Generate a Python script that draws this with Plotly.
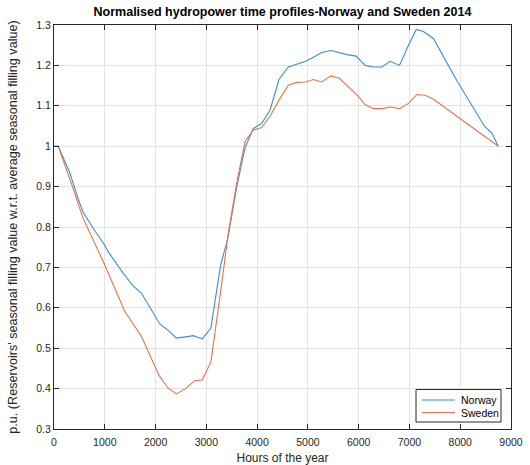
import plotly.graph_objects as go

# Weekly reservoir filling profiles (p.u. of average seasonal filling value)
norway_hours = [0, 84, 310, 480, 580, 770, 1000, 1065, 1361, 1558, 1723, 2084, 2249,
                2413, 2590, 2742, 2920, 3090, 3280, 3420, 3600, 3761, 3925, 4089, 4254,
                4431, 4615, 4780, 4957, 5108, 5273, 5451, 5634, 5798, 5949, 6127, 6291,
                6456, 6620, 6804, 6981, 7133, 7277, 7474, 7935, 8474, 8626, 8750]
norway_values = [1.0, 1.0, 0.935, 0.868, 0.835, 0.797, 0.755, 0.739, 0.686, 0.654, 0.636,
                 0.560, 0.544, 0.525, 0.528, 0.531, 0.523, 0.550, 0.705, 0.770, 0.900,
                 0.996, 1.044, 1.056, 1.089, 1.165, 1.196, 1.203, 1.210, 1.220, 1.232,
                 1.237, 1.231, 1.226, 1.223, 1.200, 1.196, 1.196, 1.210, 1.200, 1.250,
                 1.289, 1.284, 1.266, 1.162, 1.050, 1.032, 1.0]

sweden_hours = [0, 84, 375, 572, 1000, 1394, 1723, 2071, 2249, 2413, 2590, 2762, 2920,
                3090, 3281, 3432, 3596, 3761, 3925, 4089, 4254, 4431, 4615, 4780, 4957,
                5108, 5273, 5451, 5620, 5798, 5975, 6127, 6291, 6456, 6620, 6804, 6981,
                7146, 7310, 7474, 8750]
sweden_values = [1.0, 1.0, 0.896, 0.822, 0.706, 0.591, 0.529, 0.432, 0.401, 0.387, 0.400,
                 0.419, 0.422, 0.466, 0.640, 0.784, 0.908, 1.011, 1.040, 1.046, 1.074,
                 1.114, 1.151, 1.158, 1.159, 1.165, 1.159, 1.174, 1.168, 1.147, 1.126,
                 1.103, 1.093, 1.093, 1.097, 1.093, 1.106, 1.128, 1.126, 1.116, 1.0]

series_names = ["Norway", "Sweden"]
series_colors = ["#3a8ed3", "#e5754a"]

x_ticks = [0, 1000, 2000, 3000, 4000, 5000, 6000, 7000, 8000, 9000]
y_ticks = [0.3, 0.4, 0.5, 0.6, 0.7, 0.8, 0.9, 1.0, 1.1, 1.2, 1.3]
y_tick_text = ["0.3", "0.4", "0.5", "0.6", "0.7", "0.8", "0.9", "1", "1.1", "1.2", "1.3"]

FONT = "Liberation Sans, Arial, Helvetica, sans-serif"
AXIS_COLOR = "#262626"
GRID_COLOR = "#e3e3e3"

W, H = 530, 465
ML, MR, MT, MB = 54, 19, 25, 36
PW, PH = W - ML - MR, H - MT - MB


def px_x(px):
    """Pixel column -> paper x fraction of the plot area."""
    return (px - ML) / PW


def px_y(py):
    """Pixel row -> paper y fraction of the plot area."""
    return (H - MB - py) / PH


fig = go.Figure()
for name, xs, ys, col in zip(series_names, [norway_hours, sweden_hours],
                             [norway_values, sweden_values], series_colors):
    fig.add_trace(go.Scatter(x=xs, y=ys, mode="lines", name=name,
                             line=dict(color=col, width=1.1), showlegend=False))

axis_common = dict(
    showline=True, linecolor=AXIS_COLOR, linewidth=1, mirror="allticks",
    ticks="inside", ticklen=5, tickwidth=1, tickcolor=AXIS_COLOR,
    showgrid=True, gridcolor=GRID_COLOR, gridwidth=1, zeroline=False,
    automargin=False,
    tickfont=dict(family=FONT, size=10.5, color=AXIS_COLOR),
)

fig.update_xaxes(range=[0, 9000], tickvals=x_ticks, ticklabelstandoff=3,
                 title=dict(text="Hours of the year",
                            font=dict(family=FONT, size=12, color=AXIS_COLOR)),
                 **axis_common)
fig.update_yaxes(range=[0.3, 1.3], tickvals=y_ticks, ticktext=y_tick_text,
                 title=dict(text="p.u. (Reservoirs' seasonal filling value w.r.t. average seasonal filling value)",
                            font=dict(family=FONT, size=12.6, color=AXIS_COLOR)),
                 **axis_common)

# Boxed legend in the lower-right corner
shapes = [dict(type="rect", xref="paper", yref="paper",
               x0=px_x(416), x1=px_x(501), y0=px_y(422), y1=px_y(389.5),
               line=dict(color=AXIS_COLOR, width=1), fillcolor="white", layer="above")]
annotations = []
for i, (name, col) in enumerate(zip(series_names, series_colors)):
    yy = px_y(400 + i * 12.5)
    shapes.append(dict(type="line", xref="paper", yref="paper",
                       x0=px_x(422), x1=px_x(455), y0=yy, y1=yy,
                       line=dict(color=col, width=1.1), layer="above"))
    annotations.append(dict(xref="paper", yref="paper", x=px_x(459), y=yy,
                            xanchor="left", yanchor="middle", text=name, showarrow=False,
                            font=dict(family=FONT, size=10.5, color="black")))

fig.update_layout(
    width=W, height=H,
    margin=dict(l=ML, r=MR, t=MT, b=MB),
    paper_bgcolor="white", plot_bgcolor="white",
    title=dict(text="<b>Normalised hydropower time profiles-Norway and Sweden 2014</b>",
               x=(ML + W - MR) / 2 / W, xanchor="center", y=1 - 12 / H, yanchor="middle",
               font=dict(family=FONT, size=12.5, color="black")),
    shapes=shapes, annotations=annotations,
    showlegend=False,
)

fig.write_html("out.html")
